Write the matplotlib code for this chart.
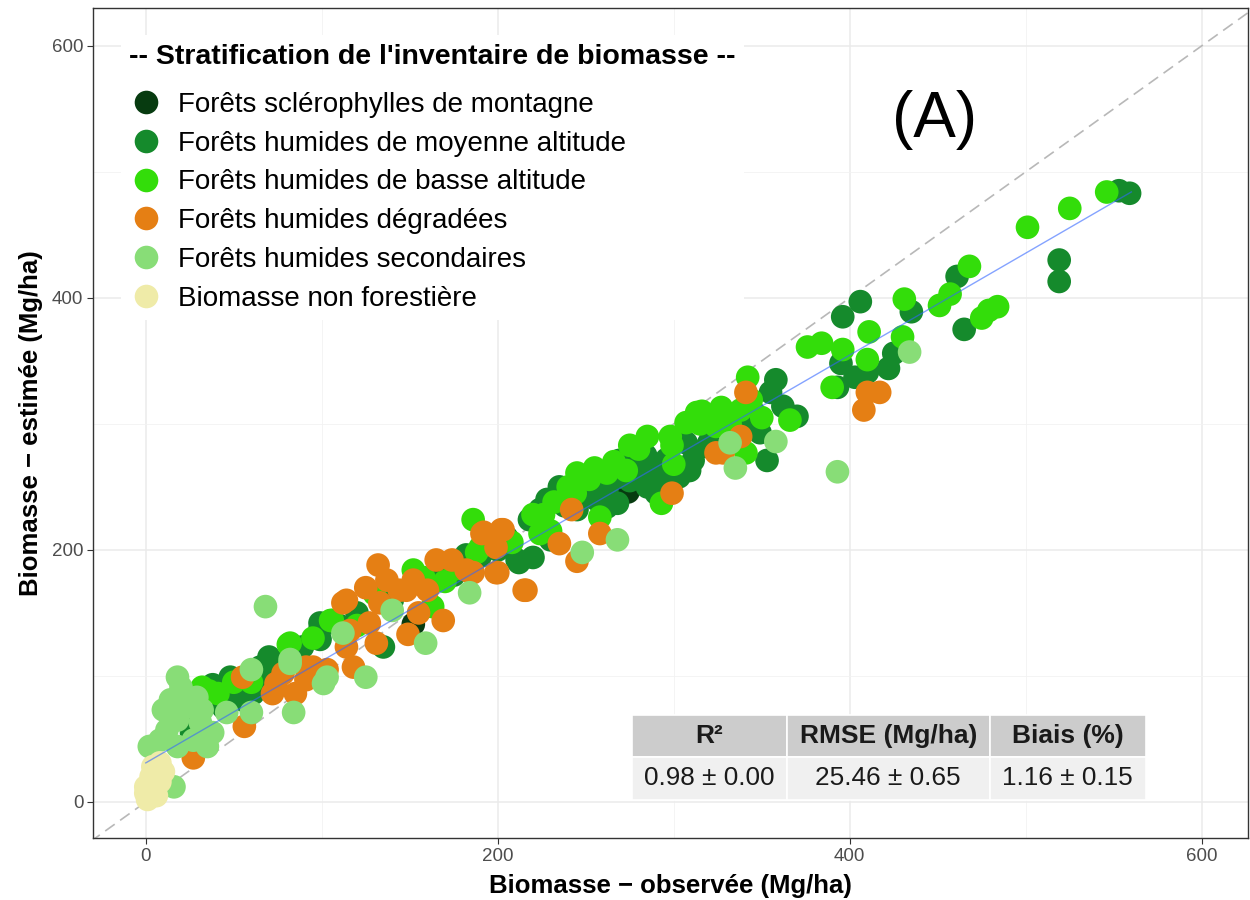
import matplotlib.pyplot as plt
from matplotlib.lines import Line2D
from matplotlib.patches import Rectangle
import numpy as np

plt.rcParams['font.family'] = ['Liberation Sans', 'DejaVu Sans']

# observed / estimated biomass (Mg/ha) per stratum
sclero_obs = [152, 274]
sclero_est = [141, 246]

moyenne_obs = [553, 559, 519, 519, 461, 435, 465, 425, 422, 406, 396, 395, 403, 410, 393, 358,
               355, 362, 370, 319, 349, 353, 309, 307, 320, 282, 269, 292, 303, 311, 319, 268,
               262, 241, 236, 224, 218, 230, 220, 211, 180, 212, 99, 99, 135, 20, 26, 38,
               48, 46, 55, 61, 70, 65, 89, 99, 200, 205, 225, 238, 250, 255, 260, 280,
               290, 296, 120, 140, 175, 330, 340, 345, 290, 285, 275, 78, 85, 110, 160, 190, 245,
               50, 58, 66, 75, 44, 228, 235, 248, 256, 262, 270, 278, 284, 168, 182, 195]
moyenne_est = [485, 483, 430, 413, 417, 389, 375, 356, 344, 397, 385, 348, 337, 341, 329, 335,
               325, 314, 306, 298, 293, 271, 263, 285, 285, 279, 271, 256, 258, 271, 282, 237,
               234, 248, 242, 232, 224, 208, 194, 192, 190, 190, 142, 129, 123, 69, 55, 93,
               99, 83, 81, 86, 115, 107, 123, 137, 200, 210, 220, 235, 245, 250, 252, 262,
               264, 272, 150, 160, 180, 303, 300, 310, 245, 250, 255, 110, 115, 140, 170, 195, 232,
               85, 90, 95, 100, 75, 240, 250, 258, 240, 248, 258, 268, 275, 180, 196, 205]

basse_obs = [546, 525, 501, 468, 457, 451, 431, 475, 484, 479, 430, 411, 376, 384, 396, 410,
             390, 342, 344, 366, 338, 327, 316, 307, 341, 299, 245, 255, 262, 273, 293, 258,
             224, 186, 190, 152, 163, 106, 82, 32, 41, 81, 105, 313, 275, 285, 298, 208,
             220, 232, 240, 252, 130, 158, 170, 230, 60, 95, 120, 350, 300,
             36, 50, 244, 266, 280, 226, 176, 188, 315, 324, 332]
basse_est = [484, 471, 456, 425, 403, 394, 399, 384, 393, 390, 369, 373, 361, 364, 359, 351,
             329, 337, 319, 303, 311, 313, 310, 301, 277, 283, 261, 265, 261, 263, 237, 226,
             213, 224, 202, 184, 155, 144, 126, 91, 86, 125, 144, 309, 283, 290, 290, 206,
             228, 238, 250, 256, 165, 178, 175, 215, 95, 130, 140, 305, 268,
             88, 95, 245, 270, 280, 228, 185, 198, 300, 298, 300]

secondaire_obs = [434, 393, 358, 332, 335, 268, 248, 184, 140, 159, 112, 125, 103, 82, 68, 18,
                  20, 14, 10, 23, 29, 32, 31, 18, 12, 2, 8, 18, 27, 35, 38, 16,
                  46, 60, 60, 84, 82, 101]
secondaire_est = [357, 262, 286, 285, 265, 208, 198, 166, 152, 126, 134, 99, 99, 113, 155, 99,
                  91, 81, 73, 75, 83, 73, 63, 65, 57, 44, 49, 44, 49, 44, 55, 12,
                  71, 105, 71, 71, 110, 94]

degradee_obs = [417, 410, 408, 341, 338, 328, 324, 299, 242, 258, 235, 245, 192, 203, 199, 200,
                216, 186, 191, 202, 132, 125, 114, 137, 152, 165, 174, 182, 185, 199, 215, 148,
                160, 133, 169, 149, 127, 116, 114, 118, 91, 78, 131, 144, 27, 55, 56, 72,
                74, 85, 91, 95, 103, 112, 155]
degradee_est = [325, 325, 311, 325, 290, 277, 277, 245, 232, 213, 205, 191, 214, 216, 202, 182,
                168, 182, 213, 216, 188, 170, 160, 176, 176, 192, 192, 184, 182, 182, 168, 168,
                168, 158, 144, 133, 142, 136, 123, 107, 107, 102, 126, 168, 35, 99, 60, 86,
                94, 86, 97, 107, 105, 158, 150]

nonforest_obs = [4, 3, 0, 1, 8, 8, 6, 0, 10, 2, 5]
nonforest_est = [28, 20, 12, 2, 31, 16, 5, 7, 24, 10, 18]

# linear fit drawn by the smoother
fit_intercept = 31
fit_slope = 0.809
fit_range = [0, 560]

stats_header = ['R²', 'RMSE (Mg/ha)', 'Biais (%)']
stats_values = ['0.98 ± 0.00', '25.46 ± 0.65', '1.16 ± 0.15']

strata = [
    ('Forêts sclérophylles de montagne', '#073b10', sclero_obs, sclero_est),
    ('Forêts humides de moyenne altitude', '#158a2c', moyenne_obs, moyenne_est),
    ('Forêts humides de basse altitude', '#33dd0a', basse_obs, basse_est),
    ('Forêts humides dégradées', '#e57f14', degradee_obs, degradee_est),
    ('Forêts humides secondaires', '#88dd77', secondaire_obs, secondaire_est),
    ('Biomasse non forestière', '#efeba8', nonforest_obs, nonforest_est),
]
draw_order = [0, 4, 1, 2, 3, 5]

fig = plt.figure(figsize=(12.5, 9), dpi=100)
ax = fig.add_axes([0.0744, 0.0689, 0.9236, 0.9222])

ax.set_xlim(-30, 626)
ax.set_ylim(-28.6, 630)
ax.set_xticks([0, 200, 400, 600])
ax.set_yticks([0, 200, 400, 600])
ax.set_xticks([100, 300, 500], minor=True)
ax.set_yticks([100, 300, 500], minor=True)
ax.grid(which='major', color='#ebebeb', lw=1.1, zorder=0)
ax.grid(which='minor', color='#f2f2f2', lw=0.6, zorder=0)
ax.set_axisbelow(True)
ax.tick_params(which='major', length=4, width=0.8, color='#333333',
               labelsize=13.5, labelcolor='#4d4d4d', pad=3)
ax.tick_params(which='minor', length=0)
for sp in ax.spines.values():
    sp.set_color('#333333')
    sp.set_linewidth(1.0)

# 1:1 line
ax.plot([-40, 640], [-40, 640], ls=(0, (7, 4)), color='#b8b8b8', lw=1.2, zorder=1)

for i in draw_order:
    name, col, xs, ys = strata[i]
    ax.scatter(xs, ys, s=290, color=col, edgecolors='none', zorder=2 + i * 0.01)

fx = np.array(fit_range)
ax.plot(fx, fit_intercept + fit_slope * fx, color='#3366ff', lw=1.0, alpha=0.6, zorder=4)

ax.set_xlabel('Biomasse − observée (Mg/ha)', fontsize=18.5, fontweight='bold', labelpad=7)
ax.set_ylabel('Biomasse − estimée (Mg/ha)', fontsize=18.5, fontweight='bold', labelpad=6)

ax.text(448, 541, '(A)', fontsize=46, ha='center', va='center', zorder=5)

handles = [Line2D([], [], marker='o', ls='none', markersize=17, color=c, markeredgecolor='none')
           for _, c, _, _ in strata]
leg = ax.legend(handles, [s[0] for s in strata],
                title="-- Stratification de l'inventaire de biomasse --",
                title_fontproperties={'weight': 'bold', 'size': 20.5},
                loc='upper left', bbox_to_anchor=(0.012, 0.984), fontsize=20,
                frameon=True, facecolor='white', edgecolor='none', framealpha=1,
                handletextpad=0.55, labelspacing=0.46, borderpad=0.3, handlelength=1.2)
leg._legend_box.align = 'left'
leg._legend_box.sep = 16
leg.set_zorder(6)

# statistics table
col_edges = [0.4667, 0.601, 0.7766, 0.9117]
row_edges = [0.0458, 0.0976, 0.148]
for j in range(3):
    x0, x1 = col_edges[j], col_edges[j + 1]
    ax.add_patch(Rectangle((x0, row_edges[1]), x1 - x0, row_edges[2] - row_edges[1],
                           transform=ax.transAxes, facecolor='#cccccc', edgecolor='white',
                           lw=1.2, zorder=5))
    ax.add_patch(Rectangle((x0, row_edges[0]), x1 - x0, row_edges[1] - row_edges[0],
                           transform=ax.transAxes, facecolor='#f0f0f0', edgecolor='white',
                           lw=1.2, zorder=5))
    xc = (x0 + x1) / 2
    ax.text(xc, (row_edges[1] + row_edges[2]) / 2, stats_header[j], transform=ax.transAxes,
            ha='center', va='center', fontsize=19, fontweight='bold', color='#1a1a1a', zorder=6)
    ax.text(xc, (row_edges[0] + row_edges[1]) / 2, stats_values[j], transform=ax.transAxes,
            ha='center', va='center', fontsize=18.8, color='#1a1a1a', zorder=6)

fig.savefig('out.png', dpi=100)
